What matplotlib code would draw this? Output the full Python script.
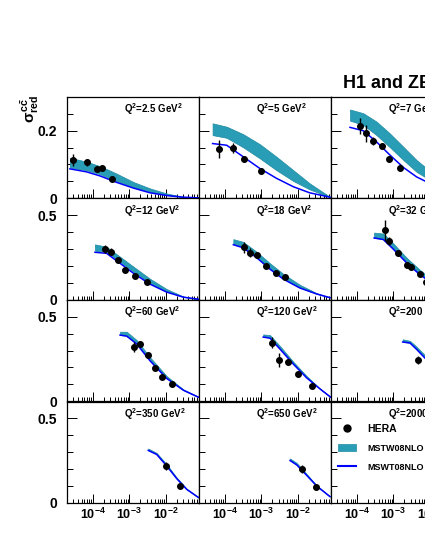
import matplotlib
matplotlib.use("Agg")
import matplotlib.pyplot as plt
from matplotlib.ticker import FixedLocator, MultipleLocator, LogLocator, NullFormatter
from matplotlib.lines import Line2D
from matplotlib.patches import Patch

plt.rcParams["font.family"] = ["Liberation Sans", "DejaVu Sans"]
plt.rcParams["font.weight"] = "bold"
plt.rcParams["mathtext.fontset"] = "custom"
plt.rcParams["mathtext.rm"] = "Liberation Sans:bold"
plt.rcParams["mathtext.it"] = "Liberation Sans:bold"
plt.rcParams["mathtext.bf"] = "Liberation Sans:bold"

# ---- data ----
q2_labels = ["2.5", "5", "7", "12", "18", "32", "60", "120", "200", "350", "650", "2000"]

hera_x = [
    [3.0e-5, 6.9e-5, 1.29e-4, 1.77e-4, 3.44e-4],
    [7.0e-5, 1.73e-4, 3.38e-4, 9.8e-4],
    [1.24e-4, 1.77e-4, 2.85e-4, 4.8e-4, 7.8e-4, 1.53e-3],
    [2.18e-4, 3.18e-4, 4.8e-4, 7.8e-4, 1.46e-3, 3.0e-3],
    [3.44e-4, 4.9e-4, 7.8e-4, 1.35e-3, 2.5e-3, 4.45e-3],
    [5.9e-4, 7.8e-4, 1.32e-3, 2.3e-3, 3.05e-3, 5.4e-3, 7.8e-3],
    [1.37e-3, 1.96e-3, 3.2e-3, 5.0e-3, 8.0e-3, 1.47e-2],
    [1.93e-3, 3.1e-3, 5.5e-3, 9.9e-3, 2.47e-2],
    [4.8e-3],
    [9.9e-3, 2.42e-2],
    [1.27e-2, 3.1e-2],
    [],
]
hera_y = [
    [0.113, 0.106, 0.088, 0.090, 0.056],
    [0.146, 0.149, 0.116, 0.080],
    [0.215, 0.192, 0.170, 0.154, 0.116, 0.091],
    [0.298, 0.284, 0.235, 0.176, 0.141, 0.104],
    [0.310, 0.278, 0.265, 0.202, 0.161, 0.137],
    [0.412, 0.349, 0.278, 0.206, 0.196, 0.151, 0.104],
    [0.323, 0.339, 0.271, 0.198, 0.144, 0.101],
    [0.346, 0.244, 0.230, 0.160, 0.089],
    [0.244],
    [0.218, 0.099],
    [0.198, 0.093],
    [],
]
hera_err = [
    [0.018, 0.010, 0.008, 0.008, 0.005],
    [0.027, 0.016, 0.009, 0.009],
    [0.024, 0.024, 0.012, 0.009, 0.010, 0.009],
    [0.024, 0.020, 0.018, 0.012, 0.012, 0.012],
    [0.035, 0.026, 0.018, 0.012, 0.012, 0.012],
    [0.062, 0.024, 0.018, 0.018, 0.018, 0.012, 0.012],
    [0.030, 0.018, 0.015, 0.012, 0.015, 0.012],
    [0.033, 0.040, 0.018, 0.015, 0.012],
    [0.025],
    [0.024, 0.012],
    [0.024, 0.012],
    [],
]

# MSTW08NLO band and line
theo_x = [
    [2.4e-5, 6.9e-5, 1.6e-4, 4.5e-4, 1.3e-3, 3.7e-3, 1.05e-2, 3.0e-2, 8.0e-2],
    [4.7e-5, 1.14e-4, 3.2e-4, 9.2e-4, 2.6e-3, 7.5e-3, 2.1e-2, 7.5e-2],
    [6.6e-5, 1.52e-4, 3.5e-4, 8.1e-4, 1.9e-3, 4.35e-3, 7.3e-3],
    [1.16e-4, 2.4e-4, 5.6e-4, 1.3e-3, 3.7e-3, 1.05e-2, 3.0e-2, 7.7e-2],
    [1.73e-4, 3.2e-4, 7.5e-4, 1.73e-3, 4.0e-3, 1.14e-2, 3.25e-2, 7.5e-2],
    [3.0e-4, 5.35e-4, 1.0e-3, 2.3e-3, 5.4e-3, 7.3e-3],
    [5.6e-4, 8.5e-4, 1.6e-3, 3.7e-3, 1.05e-2, 3.0e-2, 7.7e-2],
    [1.13e-3, 1.73e-3, 3.24e-3, 7.5e-3, 1.74e-2, 4.0e-2, 7.8e-2],
    [1.81e-3, 2.86e-3, 4.35e-3, 7.3e-3],
    [3.3e-3, 5.6e-3, 1.05e-2, 1.97e-2, 3.7e-2, 7.7e-2],
    [6.1e-3, 9.3e-3, 1.74e-2, 3.25e-2, 7.5e-2],
    [],
]
band_hi = [
    [0.120, 0.108, 0.095, 0.073, 0.048, 0.029, 0.014, 0.004, 0.001],
    [0.222, 0.212, 0.190, 0.160, 0.123, 0.083, 0.044, 0.004],
    [0.263, 0.252, 0.227, 0.192, 0.152, 0.113, 0.093],
    [0.328, 0.314, 0.255, 0.196, 0.124, 0.063, 0.019, 0.004],
    [0.359, 0.343, 0.284, 0.216, 0.153, 0.088, 0.039, 0.014],
    [0.398, 0.392, 0.334, 0.249, 0.176, 0.153],
    [0.412, 0.412, 0.362, 0.260, 0.149, 0.070, 0.026],
    [0.396, 0.392, 0.327, 0.234, 0.149, 0.075, 0.026],
    [0.367, 0.358, 0.323, 0.273],
    [0.321, 0.295, 0.228, 0.149, 0.083, 0.033],
    [0.262, 0.236, 0.170, 0.103, 0.038],
    [],
]
band_lo = [
    [0.091, 0.083, 0.071, 0.051, 0.033, 0.019, 0.009, 0.003, 0.001],
    [0.187, 0.179, 0.151, 0.118, 0.083, 0.051, 0.026, 0.003],
    [0.230, 0.217, 0.187, 0.151, 0.113, 0.078, 0.063],
    [0.290, 0.284, 0.225, 0.166, 0.098, 0.049, 0.016, 0.003],
    [0.329, 0.314, 0.255, 0.186, 0.128, 0.072, 0.035, 0.012],
    [0.366, 0.359, 0.304, 0.225, 0.153, 0.131],
    [0.392, 0.388, 0.343, 0.244, 0.138, 0.065, 0.024],
    [0.382, 0.376, 0.313, 0.224, 0.141, 0.073, 0.024],
    [0.352, 0.346, 0.309, 0.260],
    [0.311, 0.288, 0.220, 0.143, 0.079, 0.031],
    [0.252, 0.226, 0.163, 0.099, 0.036],
    [],
]
line_y = [
    [0.087, 0.078, 0.066, 0.047, 0.030, 0.016, 0.008, 0.003, 0.001],
    [0.162, 0.157, 0.123, 0.088, 0.059, 0.034, 0.016, 0.003],
    [0.210, 0.200, 0.167, 0.128, 0.091, 0.063, 0.051],
    [0.281, 0.275, 0.216, 0.157, 0.092, 0.045, 0.015, 0.003],
    [0.326, 0.308, 0.249, 0.181, 0.122, 0.069, 0.034, 0.012],
    [0.366, 0.357, 0.300, 0.219, 0.147, 0.128],
    [0.392, 0.386, 0.339, 0.239, 0.135, 0.065, 0.024],
    [0.380, 0.374, 0.309, 0.220, 0.138, 0.073, 0.024],
    [0.351, 0.345, 0.307, 0.256],
    [0.310, 0.286, 0.218, 0.143, 0.079, 0.031],
    [0.250, 0.224, 0.162, 0.099, 0.036],
    [],
]

x_tick_labels = [r"$10^{-4}$", r"$10^{-3}$", r"$10^{-2}$"]
legend_labels = ["HERA", "MSTW08NLO", "MSWT08NLO"]

BAND = "#2a9db6"
BAND_EDGE = "#1d8aa2"
LINE = "#0000ff"

# ---- layout (pixels) ----
W, H = 425, 550
COL_LEFT = [67, 199, 331]
ROW_TOP = [97, 198.5, 300, 401.5]
PW, PH = 132, 101.2

fig = plt.figure(figsize=(W / 100, H / 100), dpi=100)

for i, q in enumerate(q2_labels):
    r, c = divmod(i, 3)
    left, top = COL_LEFT[c], ROW_TOP[r]
    ax = fig.add_axes([left / W, 1 - (top + PH) / H, PW / W, PH / H])
    ax.set_xscale("log")
    ax.set_xlim(2e-5, 0.08)

    if r == 0:
        ax.set_ylim(0, 0.3)
        ax.yaxis.set_major_locator(FixedLocator([0, 0.2]))
        ax.yaxis.set_minor_locator(MultipleLocator(0.05))
        ax.set_yticklabels(["0", "0.2"])
    else:
        ax.set_ylim(0, 0.6)
        ax.yaxis.set_major_locator(FixedLocator([0, 0.5]))
        ax.yaxis.set_minor_locator(MultipleLocator(0.1))
        ax.set_yticklabels(["0", "0.5"])
    if c != 0:
        ax.tick_params(axis="y", labelleft=False)

    ax.xaxis.set_major_locator(FixedLocator([1e-4, 1e-3, 1e-2]))
    ax.xaxis.set_minor_locator(LogLocator(base=10, subs=range(2, 10), numticks=20))
    ax.xaxis.set_minor_formatter(NullFormatter())
    if r == 3:
        ax.set_xticklabels(x_tick_labels)
    else:
        ax.tick_params(axis="x", labelbottom=False)

    ax.tick_params(axis="x", which="major", direction="in", length=6.5, width=0.7, pad=3, labelsize=9)
    ax.tick_params(axis="x", which="minor", direction="in", length=3.2, width=0.7)
    ax.tick_params(axis="y", which="major", direction="in", length=7, width=0.7, pad=7, labelsize=10)
    ax.tick_params(axis="y", which="minor", direction="in", length=4, width=0.7)
    for s in ax.spines.values():
        s.set_linewidth(0.9)

    if theo_x[i]:
        ax.fill_between(theo_x[i], band_lo[i], band_hi[i], facecolor=BAND,
                        edgecolor=BAND_EDGE, linewidth=0.5, zorder=2)
        ax.plot(theo_x[i], line_y[i], color=LINE, linewidth=1.1, zorder=3)
    if hera_x[i]:
        ax.errorbar(hera_x[i], hera_y[i], yerr=hera_err[i], fmt="o", color="k",
                    markersize=4, elinewidth=1, capsize=0, zorder=4)

    ax.text(56.5 / PW, 1 - 16.5 / PH, f"Q$^2$={q} GeV$^2$", transform=ax.transAxes,
            fontsize=7, fontweight="bold", ha="left", va="baseline")

    if i == 11:
        handles = [
            Line2D([], [], marker="o", color="k", linestyle="none", markersize=5),
            Patch(facecolor=BAND, edgecolor=BAND_EDGE, linewidth=0.5),
            Line2D([], [], color=LINE, linewidth=1.5),
        ]
        leg = ax.legend(handles, legend_labels, loc="upper left",
                        bbox_to_anchor=(0.05, 0.78), frameon=False, fontsize=6.5,
                        handlelength=2.0, handleheight=0.9, handletextpad=1.3,
                        labelspacing=1.1, borderpad=0, borderaxespad=0)
        leg.get_texts()[0].set_fontsize(7.5)

fig.text(343 / W, 1 - 88 / H, "H1 and ZEUS", fontsize=13, fontweight="bold",
         ha="left", va="baseline")
fig.text(30 / W, 1 - 95 / H, r"$\sigma^{c\bar{c}}_{red}$", fontsize=11,
         rotation=90, ha="center", va="top")

fig.savefig("out.png", dpi=100)
